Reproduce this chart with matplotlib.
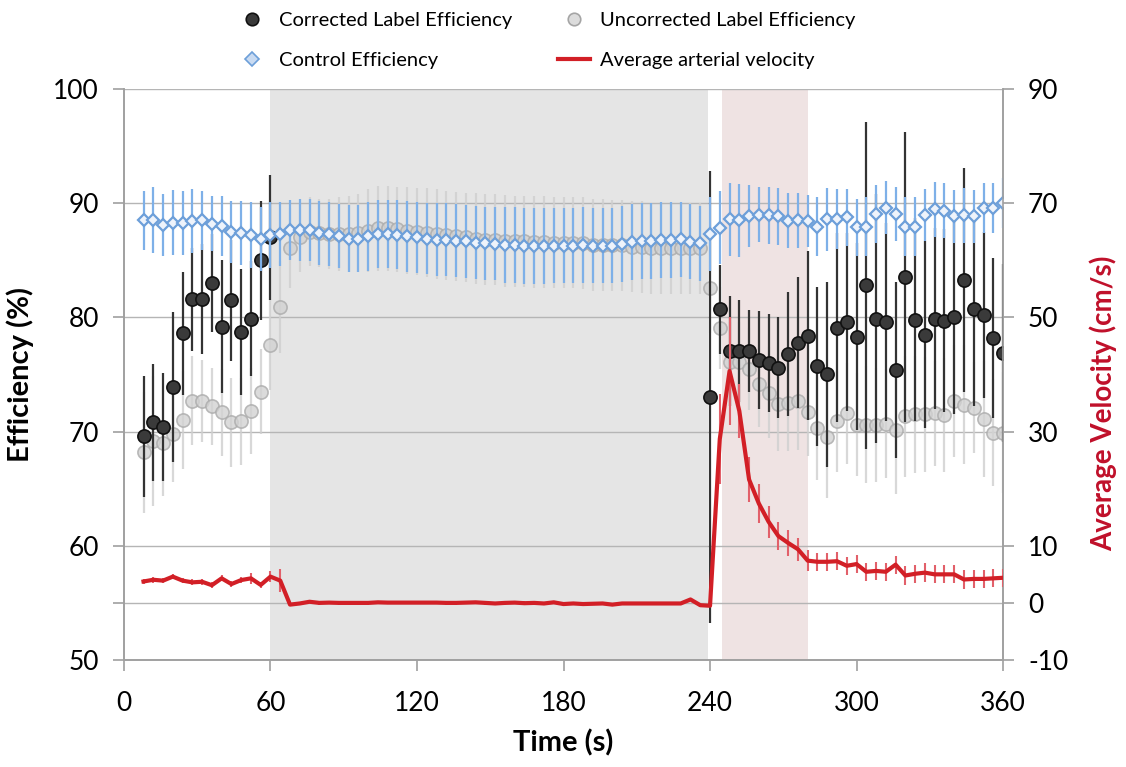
import numpy as np
import matplotlib.pyplot as plt
from matplotlib.lines import Line2D

plt.rcParams['font.family'] = ['Lato', 'DejaVu Sans']
plt.rcParams['axes.unicode_minus'] = False

time_s = np.arange(8, 361, 4)
nan = np.nan

corrected = ([69.6, 70.8, 70.4, 73.9, 78.6, 81.6, 81.6, 83.0, 79.2, 81.5, 78.7, 79.9, 85.0, 87.0]
             + [nan] * 44
             + [73.0, 80.7, 77.05, 77.05, 77.05, 76.3, 76.0, 75.6, 76.8, 77.8, 78.4, 75.7, 75.0,
                79.1, 79.6, 78.3, 82.8, 79.9, 79.6, 75.4, 83.5, 79.8, 78.5, 79.9, 79.7, 80.0,
                83.3, 80.7, 80.2, 78.2, 76.9])
corrected_err = ([5.3, 5.1, 4.7, 6.6, 5.4, 4.5, 4.8, 4.3, 5.8, 5.3, 5.5, 5.0, 5.2, 5.5]
                 + [nan] * 44
                 + [19.8, 3.9, 4.8, 4.5, 3.6, 4.3, 4.3, 4.4, 5.4, 5.7, 7.4, 7.0, 8.1, 8.3, 7.8,
                    8.2, 14.3, 10.9, 8.7, 7.7, 12.7, 8.9, 8.2, 7.9, 8.0, 8.5, 9.8, 8.5, 7.3, 7.0, 7.8])

uncorrected = [68.2, 69.2, 69.0, 69.8, 71.0, 72.7, 72.7, 72.2, 71.7, 70.8, 70.9, 71.8, 73.5, 77.6,
               80.9, 86.1, 87.0, 87.5, 87.4, 87.3, 87.3, 87.3, 87.4, 87.6, 87.8, 87.8, 87.7, 87.6,
               87.5, 87.4, 87.3, 87.2, 87.1, 87.0, 86.9, 86.8, 86.8, 86.7, 86.65, 86.65, 86.6,
               86.6, 86.55, 86.55, 86.55, 86.5, 86.35, 86.35, 86.3, 86.3, 86.2, 86.15, 86.05,
               86.05, 86.05, 86.05, 86.05, 86.05,
               82.6, 79.1, 76.1, 76.1, 75.5, 74.2, 73.4, 72.4, 72.5, 72.7, 71.7, 70.3, 69.5,
               70.9, 71.6, 70.6, 70.6, 70.6, 70.7, 70.1, 71.35, 71.5, 71.5, 71.6, 71.45, 72.7,
               72.35, 72.1, 71.1, 69.9, 69.9]
uncorrected_err = ([5.3, 5.7, 4.6, 4.2, 4.3, 3.9, 3.6, 3.4, 3.8, 3.9, 3.8, 3.8, 3.7, 4.0,
                    4.0, 3.5, 3.0, 3.0, 3.0, 3.1, 3.2, 3.3, 3.4, 3.6, 3.7, 3.7, 3.7, 3.8, 3.8,
                    3.9, 3.9, 3.9, 3.9, 3.9, 4.0, 4.0, 4.0]
                   + [4.0] * 21
                   + [4.0, 3.6, 3.5, 3.5, 3.6, 3.8, 4.0, 4.1, 4.2, 4.3, 3.8, 4.5, 5.3, 4.4, 4.4,
                      4.5, 5.1, 5.0, 4.8, 5.6, 5.3, 5.1, 5.0, 4.6, 5.0, 4.9, 5.2, 4.0, 5.1, 4.7, 5.3])

control = [88.5, 88.5, 88.1, 88.3, 88.3, 88.4, 88.5, 88.2, 88.0, 87.5, 87.4, 87.2, 86.9, 87.2,
           87.3, 87.65, 87.65, 87.65, 87.4, 87.3, 87.1, 86.9, 86.9, 87.1, 87.3, 87.3, 87.25,
           87.1, 87.0, 86.9, 86.8, 86.8, 86.7, 86.65, 86.55, 86.5, 86.45, 86.35, 86.35, 86.26,
           86.26, 86.26, 86.29, 86.29, 86.29, 86.35, 86.29, 86.29, 86.29, 86.43, 86.61, 86.7,
           86.7, 86.78, 86.78, 86.84, 86.64, 86.49,
           87.3, 87.85, 88.6, 88.5, 88.85, 89.0, 88.95, 88.85, 88.45, 88.5, 88.45, 87.95, 88.6,
           88.6, 88.75, 87.9, 87.95, 89.05, 89.6, 89.05, 87.95, 87.95, 88.95, 89.45, 89.35,
           88.85, 88.95, 88.85, 89.6, 89.6, 90.0]
control_err = ([2.6, 2.9, 2.7, 2.85, 2.8, 2.8, 2.6, 2.4, 2.6, 2.7, 2.8, 2.9, 2.8, 2.9,
                2.8, 2.6, 2.7, 2.7, 2.8, 2.8, 2.8, 2.9, 2.9, 3.0, 3.0, 3.0, 3.0, 3.1, 3.1,
                3.1, 3.2, 3.2, 3.2, 3.2, 3.2, 3.2, 3.2]
               + [3.3] * 21
               + [3.2, 3.2, 3.2, 3.2, 2.7, 2.4, 2.5, 2.5, 2.4, 2.4, 2.3, 2.6, 2.75, 2.6, 2.5,
                  2.5, 2.55, 2.5, 2.3, 2.4, 2.6, 2.6, 2.3, 2.4, 2.4, 2.3, 2.4, 2.3, 2.2, 2.2, 2.2])

velocity = [3.75, 4.05, 3.9, 4.6, 3.9, 3.6, 3.7, 3.1, 4.3, 3.3, 4.0, 4.3, 3.15, 4.6, 3.9,
            -0.3, -0.1, 0.2, 0.0, 0.05, 0.0, 0.0, 0.0, 0.0, 0.1, 0.05, 0.05, 0.05, 0.05, 0.05,
            0.05, 0.0, 0.0, 0.05, 0.1, 0.0, -0.1, 0.0, 0.05, -0.05, 0.0, -0.1, 0.1, -0.2, -0.1,
            -0.2, -0.15, -0.1, -0.3, -0.1, -0.1, -0.1, -0.1, -0.1, -0.1, -0.1, 0.6, -0.4,
            -0.5, 28.7, 40.6, 33.6, 21.6, 17.4, 14.2, 11.7, 10.5, 9.4, 7.4, 7.2, 7.2, 7.3, 6.5,
            6.8, 5.45, 5.6, 5.45, 6.7, 4.8, 5.1, 5.3, 5.0, 5.0, 5.0, 4.1, 4.2, 4.2, 4.3, 4.4]
velocity_err = ([0.5] * 11 + [1.0, 0.5, 1.0, 2.0]
                + [0.3] * 43
                + [0.3, 7.9, 9.5, 4.8, 3.9, 3.4, 2.8, 2.4, 2.3, 2.0, 1.9]
                + [1.6] * 20)

fig = plt.figure(figsize=(11.26, 7.67), dpi=100)
ax = fig.add_axes([0.1101, 0.1395, 0.7807, 0.7445])
ax2 = ax.twinx()

ax.axvspan(60, 239.3, color='#e5e5e5', lw=0, zorder=0)
ax.axvspan(245, 280, color='#efe3e3', lw=0, zorder=0)
for yv in [55, 60, 70, 80, 90, 100]:
    ax.axhline(yv, color='#b5b5b5', lw=1, zorder=0.5)

ax.errorbar(time_s, uncorrected, yerr=uncorrected_err, fmt='o', ms=9.5,
            mfc='#d2d2d2', mec='#ababab', mew=1.2, ecolor='#cfcfcf', elinewidth=1.6,
            capsize=0, alpha=0.8, zorder=2)
ax.errorbar(time_s, corrected, yerr=corrected_err, fmt='o', ms=9.5,
            mfc='#3a3a3a', mec='#111111', mew=1.2, ecolor='#333333', elinewidth=1.6,
            capsize=0, zorder=3)
ax.errorbar(time_s, control, yerr=control_err, fmt='D', ms=6.5,
            mfc='#eef3fb', mec='#6d9fd9', mew=1.6, ecolor='#7eb0e8', elinewidth=1.6,
            capsize=0, zorder=4)

ax2.errorbar(time_s, velocity, yerr=velocity_err, fmt='none', ecolor='#e2606a',
             elinewidth=1.5, capsize=0, zorder=5)
ax2.plot(time_s, velocity, color='#d21f26', lw=3, zorder=6)

ax.set_xlim(0, 360)
ax.set_ylim(50, 100)
ax2.set_ylim(-10, 90)
ax.set_xticks([0, 60, 120, 180, 240, 300, 360])
ax.set_yticks([50, 60, 70, 80, 90, 100])
ax.set_yticks([55], minor=True)
ax2.set_yticks([-10, 0, 10, 30, 50, 70, 90])

for a in (ax, ax2):
    a.spines['top'].set_visible(False)
    for side in ['left', 'right', 'bottom']:
        a.spines[side].set_color('#a0a0a0')
        a.spines[side].set_linewidth(1.2)
    a.tick_params(which='both', direction='out', length=8, width=1.2, color='#a0a0a0',
                  labelsize=19, pad=10)
ax.tick_params(axis='x', pad=14)

ax.set_xlabel('Time (s)', fontsize=21, fontweight='bold', labelpad=10)
ax.set_ylabel('Efficiency (%)', fontsize=21, fontweight='bold', labelpad=14)
ax2.set_ylabel('Average Velocity (cm/s)', fontsize=20, fontweight='bold', color='#c0102a')
ax2.yaxis.set_label_coords(1.098, 0.45)
ax2.patch.set_visible(False)

handles = [
    Line2D([], [], ls='none', marker='o', ms=9, mfc='#3a3a3a', mec='#111111', mew=1.2),
    Line2D([], [], ls='none', marker='D', ms=7, mfc='#c9dbf2', mec='#6d9fd9', mew=1.2),
    Line2D([], [], ls='none', marker='o', ms=9, mfc='#dcdcdc', mec='#a5a5a5', mew=1.2),
    Line2D([], [], color='#d21f26', lw=3),
]
labels = ['Corrected Label Efficiency', 'Control Efficiency',
          'Uncorrected Label Efficiency', 'Average arterial velocity']
fig.legend(handles, labels, ncol=2, loc='upper center', bbox_to_anchor=(0.485, 1.008),
           frameon=False, fontsize=14.5, handlelength=1.6, handletextpad=0.5,
           columnspacing=2.3, labelspacing=1.15)

fig.savefig('out.png', dpi=100)
